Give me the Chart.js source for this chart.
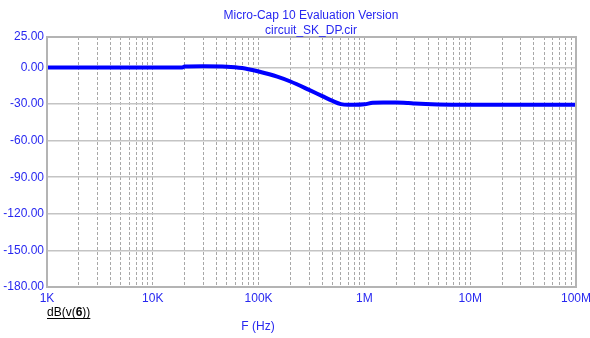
<!DOCTYPE html>
<html>
<head>
<meta charset="utf-8">
<script src="https://cdn.jsdelivr.net/npm/chart.js@4.4.0/dist/chart.umd.min.js"></script>
<style>
  html, body { margin: 0; padding: 0; background: #fff; }
  #wrap { width: 590px; height: 338px; }
</style>
</head>
<body>
<div id="wrap"><canvas id="mycanvas" width="590" height="338"></canvas></div>
<script>
// frequency (Hz) and gain (dB)
var freq = [1e3, 2e3, 5e3, 1e4, 1.9e4, 2e4, 3e4, 5e4, 6e4, 7e4, 8e4, 1e5, 1.5e5, 2e5, 3e5, 4e5, 5e5, 6e5, 7e5, 8e5, 1e6, 1.2e6, 1.5e6, 2e6, 2.6e6, 3e6, 5e6, 1e7, 3e7, 1e8];
var gainDb = [0, 0, 0, 0, 0, 0.8, 1, 0.7, 0.2, -0.5, -1.4, -3.3, -7.5, -11.5, -18.4, -23.5, -27.4, -30, -30.6, -30.6, -30.2, -29, -28.8, -28.8, -29.2, -29.6, -30.3, -30.5, -30.5, -30.5];

var decadeTicks = [1e3, 1e4, 1e5, 1e6, 1e7, 1e8];
var decadeLabels = ['1K', '10K', '100K', '1M', '10M', '100M'];
var yTicks = [25, 0, -30, -60, -90, -120, -150, -180];

var titleLines = ['Micro-Cap 10 Evaluation Version', 'circuit_SK_DP.cir'];
var xTitle = 'F (Hz)';

var blue = '#2828f0';

var points = [];
for (var i in freq) {
  points.push({x: freq[i], y: gainDb[i]});
}

// grid lines at 1..9 of each decade
var xGrid = [];
for (var d = 0; d < decadeTicks.length; d++) {
  for (var m = 1; m <= 9; m++) {
    var v = decadeTicks[d] * m;
    if (v <= 1e8) xGrid.push(v);
  }
}

var frameAndText = {
  id: 'frameAndText',
  afterDraw: function(chart) {
    var c = chart.ctx, a = chart.chartArea;
    c.save();
    c.strokeStyle = '#b4b4b4';
    c.lineWidth = 2;
    c.strokeRect(a.left, a.top, a.right - a.left, a.bottom - a.top);

    c.fillStyle = blue;
    c.font = '12px "Liberation Sans"';
    c.textAlign = 'center';
    c.textBaseline = 'middle';
    c.fillText(titleLines[0], 311, 16);
    c.fillText(titleLines[1], 311, 31);
    c.fillText(xTitle, 258, 327);

    // dB(v(6)) label, underlined, 6 in bold
    c.fillStyle = '#000';
    c.textAlign = 'left';
    c.textBaseline = 'alphabetic';
    var x = 47, y = 316;
    c.font = '12px "Liberation Sans"';
    c.fillText('dB(v(', x, y);
    x += c.measureText('dB(v(').width;
    c.font = 'bold 12px "Liberation Sans"';
    c.fillText('6', x, y);
    x += c.measureText('6').width;
    c.font = '12px "Liberation Sans"';
    c.fillText('))', x, y);
    x += c.measureText('))').width;
    c.fillRect(47, y + 2, x - 47, 1);
    c.restore();
  }
};

var ctx = document.getElementById('mycanvas');

var lineGraph = new Chart(ctx, {
  type: 'scatter',
  data: {
    datasets: [{
      label: 'dB(v(6))',
      data: points,
      showLine: true,
      borderColor: '#0000ff',
      backgroundColor: '#0000ff',
      borderWidth: 4,
      pointRadius: 0,
      cubicInterpolationMode: 'monotone'
    }]
  },
  options: {
    responsive: false,
    animation: false,
    layout: { padding: { left: 0, right: 14, top: 37, bottom: 0 } },
    plugins: {
      legend: { display: false },
      tooltip: { enabled: false }
    },
    scales: {
      x: {
        type: 'logarithmic',
        min: 1e3,
        max: 1e8,
        afterBuildTicks: function(scale) {
          scale.ticks = xGrid.map(function(v) { return {value: v}; });
        },
        afterFit: function(scale) {
          scale.height = 51;
          scale.paddingRight = 0;
          scale.paddingLeft = 0;
        },
        grid: { color: '#a8a8a8', lineWidth: 1, drawTicks: false },
        border: { display: false, dash: [3, 2] },
        ticks: {
          autoSkip: false,
          maxRotation: 0,
          padding: 4,
          color: blue,
          font: { family: 'Liberation Sans', size: 12 },
          callback: function(value) {
            var k = decadeTicks.indexOf(value);
            return k >= 0 ? decadeLabels[k] : '';
          }
        }
      },
      y: {
        min: -180,
        max: 25,
        afterBuildTicks: function(scale) {
          scale.ticks = yTicks.map(function(v) { return {value: v}; });
        },
        afterFit: function(scale) {
          scale.width = 47;
          scale.paddingTop = 0;
          scale.paddingBottom = 0;
        },
        grid: { color: '#c4c4c4', lineWidth: 1.5, drawTicks: false },
        border: { display: false },
        ticks: {
          padding: 3,
          color: blue,
          font: { family: 'Liberation Sans', size: 12 },
          callback: function(value) { return value.toFixed(2); }
        }
      }
    }
  },
  plugins: [frameAndText]
});
</script>
</body>
</html>
